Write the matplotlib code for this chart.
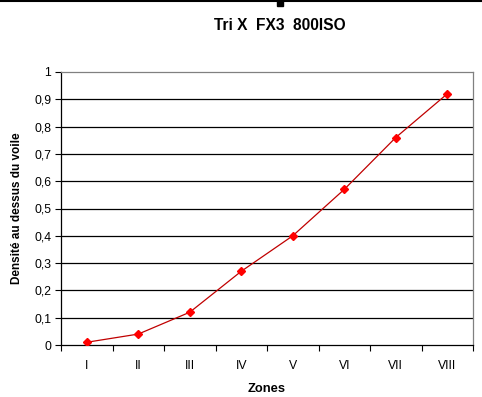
import matplotlib
matplotlib.use("Agg")
import matplotlib.pyplot as plt
import numpy as np
from matplotlib.ticker import FixedLocator

plt.rcParams['font.family'] = ['Liberation Sans', 'DejaVu Sans']

zones = ["I", "II", "III", "IV", "V", "VI", "VII", "VIII"]
density = [0.01, 0.04, 0.12, 0.27, 0.40, 0.57, 0.76, 0.92]
yticks = [0, 0.1, 0.2, 0.3, 0.4, 0.5, 0.6, 0.7, 0.8, 0.9, 1]
ytick_labels = ["0", "0,1", "0,2", "0,3", "0,4", "0,5", "0,6", "0,7", "0,8", "0,9", "1"]

fig = plt.figure(figsize=(4.82, 3.97), dpi=100)
ax = fig.add_axes([61/482, 1-345/397, (473-61)/482, (345-72)/397])

x = np.arange(len(zones))
ax.plot(x, density, color='#c00000', lw=0.9, marker='D', markersize=4,
        markerfacecolor='#ff0000', markeredgecolor='#ff0000', zorder=3)

ax.set_xlim(-0.5, len(zones) - 0.5)
ax.set_ylim(0, 1)
ax.set_yticks(yticks)
ax.set_yticklabels(ytick_labels, fontsize=8.8)
ax.set_xticks(x)
ax.set_xticklabels(zones, fontsize=8.8)
ax.xaxis.set_minor_locator(FixedLocator(np.arange(-0.5, len(zones), 1.0)))
ax.tick_params(axis='x', which='major', length=0, pad=11)
ax.tick_params(axis='x', which='minor', length=4, direction='out', width=0.8)
ax.tick_params(axis='y', length=4, direction='out', width=0.8, pad=3)

for yv in yticks[1:-1]:
    ax.axhline(yv, color='black', lw=0.9, zorder=1)

for s in ['top', 'right']:
    ax.spines[s].set_color('#808080')
    ax.spines[s].set_linewidth(0.9)
for s in ['left', 'bottom']:
    ax.spines[s].set_color('black')
    ax.spines[s].set_linewidth(0.9)

ax.set_xlabel("Zones", fontsize=9.3, fontweight='bold', labelpad=8)
ax.set_ylabel("Densité au dessus du voile", fontsize=8.5, fontweight='bold', labelpad=8)
fig.text(280/482, 1-25/397, "Tri X  FX3  800ISO", fontsize=11.2, fontweight='bold',
         ha='center', va='center')

# top border line and small mark
fig.add_artist(plt.Line2D([0, 1], [1-0.5/397, 1-0.5/397], color='black', lw=1.5))
fig.add_artist(plt.Rectangle((277/482, 1-6/397), 6/482, 6/397, color='black'))

fig.savefig("out.png", dpi=100)
